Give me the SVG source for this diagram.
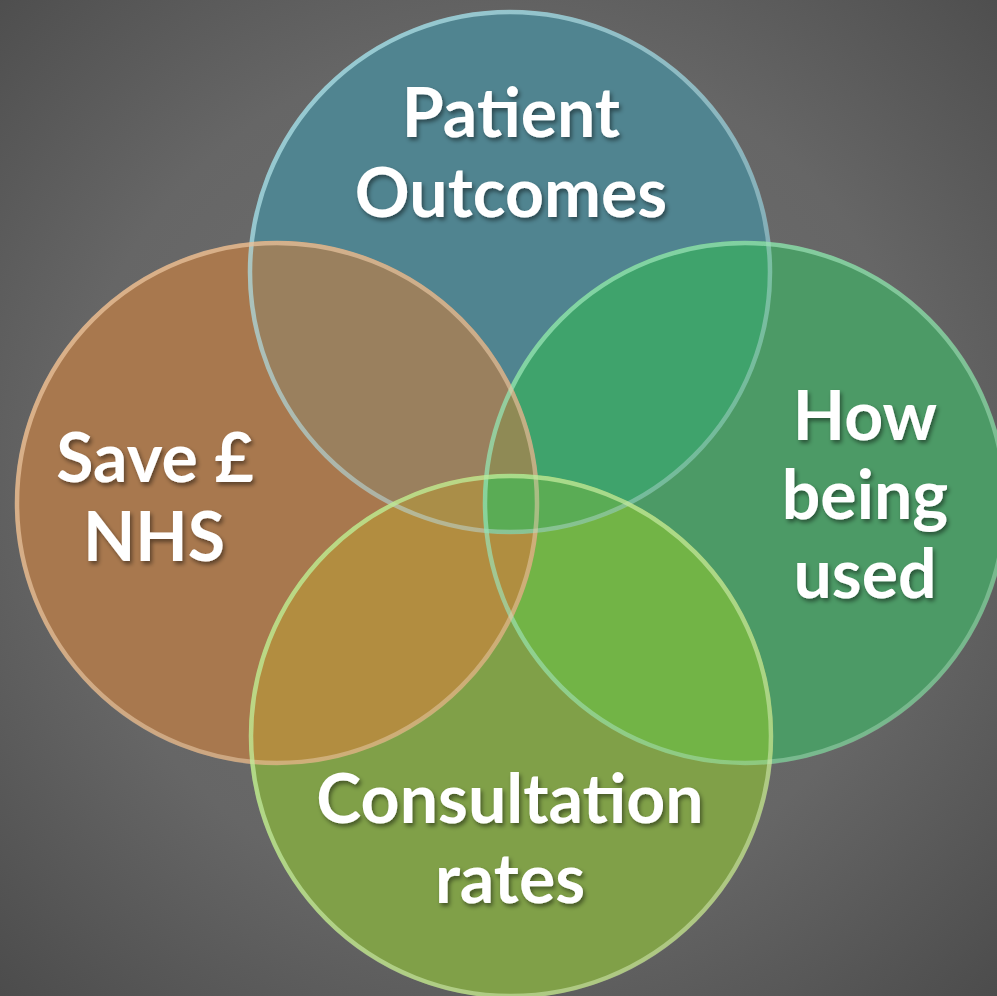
<svg xmlns="http://www.w3.org/2000/svg" xmlns:xlink="http://www.w3.org/1999/xlink" width="997" height="996" viewBox="0 0 997 996">
<defs>
  <radialGradient id="bg" cx="50%" cy="48%" r="72%">
    <stop offset="0" stop-color="#717171"/>
    <stop offset="0.6" stop-color="#666666"/>
    <stop offset="1" stop-color="#4c4c4c"/>
  </radialGradient>
  <clipPath id="cT"><circle cx="510" cy="272" r="262"/></clipPath>
  <clipPath id="cO"><circle cx="277" cy="503" r="262"/></clipPath>
  <clipPath id="cR"><circle cx="745" cy="503" r="262"/></clipPath>
  <clipPath id="cB"><circle cx="511" cy="736" r="262"/></clipPath>
  <linearGradient id="rimT" x1="0" y1="0" x2="1" y2="1">
    <stop offset="0" stop-color="#a6dde4" stop-opacity="0.85"/>
    <stop offset="1" stop-color="#cfe4e8" stop-opacity="0.3"/>
  </linearGradient>
  <linearGradient id="rimO" x1="0" y1="0" x2="1" y2="1">
    <stop offset="0" stop-color="#e6bc94" stop-opacity="0.85"/>
    <stop offset="1" stop-color="#e8d0b0" stop-opacity="0.45"/>
  </linearGradient>
  <linearGradient id="rimR" x1="0" y1="0" x2="1" y2="1">
    <stop offset="0" stop-color="#8fe2b0" stop-opacity="0.85"/>
    <stop offset="1" stop-color="#b8e0c4" stop-opacity="0.35"/>
  </linearGradient>
  <linearGradient id="rimB" x1="0" y1="0" x2="1" y2="1">
    <stop offset="0" stop-color="#b8ec90" stop-opacity="0.85"/>
    <stop offset="1" stop-color="#d8e8b8" stop-opacity="0.5"/>
  </linearGradient>
  <filter id="shadow" x="-10%" y="-20%" width="130%" height="150%">
    <feDropShadow dx="2" dy="3" stdDeviation="2.2" flood-color="#000000" flood-opacity="0.45"/>
  </filter>
</defs>
<style>
  .lbl { font-family: Lato, "Open Sans", "Liberation Sans", sans-serif; font-weight: 700; font-size: 68px; fill: #ffffff; text-anchor: middle; filter: url(#shadow); }
  .rim { fill: none; stroke-width: 4.5; }
</style>
<rect x="0" y="0" width="997" height="996" fill="url(#bg)"/>

<g id="fills">
  <circle cx="510" cy="272" r="262" fill="#508490"/>
  <circle cx="745" cy="503" r="262" fill="#4c9a66"/>
  <circle cx="277" cy="503" r="262" fill="#a8784e"/>
  <circle cx="511" cy="736" r="262" fill="#80a048"/>
  <g clip-path="url(#cT)"><circle cx="745" cy="503" r="262" fill="#3fa36c"/></g>
  <g clip-path="url(#cT)"><circle cx="277" cy="503" r="262" fill="#9a805e"/></g>
  <g clip-path="url(#cR)"><circle cx="511" cy="736" r="262" fill="#72b446"/></g>
  <g clip-path="url(#cO)"><circle cx="511" cy="736" r="262" fill="#b28d40"/></g>
  <g clip-path="url(#cO)"><circle cx="745" cy="503" r="262" fill="#8f8a55"/></g>
  <g clip-path="url(#cO)"><g clip-path="url(#cR)"><circle cx="511" cy="736" r="262" fill="#b08e40"/></g></g>
  <g clip-path="url(#cT)"><g clip-path="url(#cO)"><circle cx="511" cy="736" r="262" fill="#aa8e48"/></g></g>
  <g clip-path="url(#cT)"><g clip-path="url(#cR)"><circle cx="511" cy="736" r="262" fill="#5aac55"/></g></g>
</g>

<g id="node-patient-outcomes">
  <circle class="rim" cx="510" cy="272" r="260" stroke="url(#rimT)"/>
  <text class="lbl" x="511" y="137">Patient</text>
  <text class="lbl" x="511" y="217">Outcomes</text>
</g>
<g id="node-how-being-used">
  <circle class="rim" cx="745" cy="503" r="260" stroke="url(#rimR)"/>
  <text class="lbl" x="865" y="440">How</text>
  <text class="lbl" x="865" y="519">being</text>
  <text class="lbl" x="865" y="598">used</text>
</g>
<g id="node-save-nhs">
  <circle class="rim" cx="277" cy="503" r="260" stroke="url(#rimO)"/>
  <text class="lbl" x="155" y="482">Save £</text>
  <text class="lbl" x="154" y="561">NHS</text>
</g>
<g id="node-consultation-rates">
  <circle class="rim" cx="511" cy="736" r="260" stroke="url(#rimB)"/>
  <text class="lbl" x="510" y="823">Consultation</text>
  <text class="lbl" x="510" y="903">rates</text>
</g>
<g id="connectors"/>
</svg>
